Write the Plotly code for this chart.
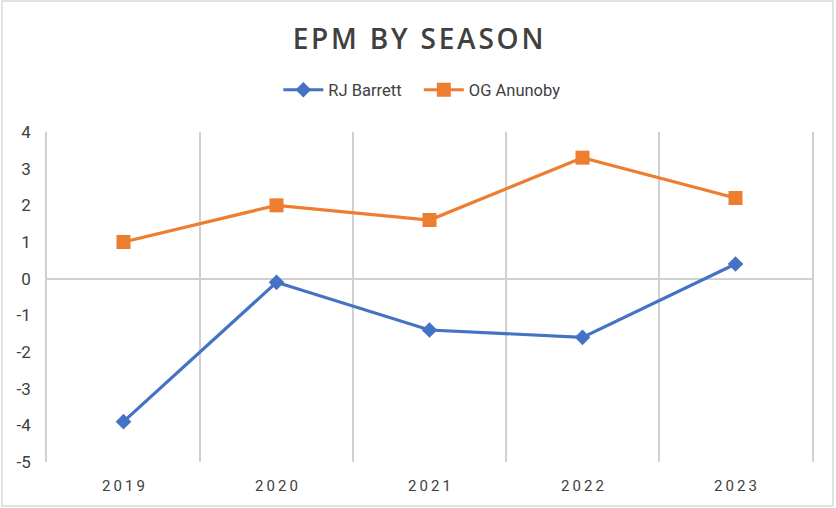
import plotly.graph_objects as go

seasons = ["2019", "2020", "2021", "2022", "2023"]
rj_barrett = [-3.9, -0.1, -1.4, -1.6, 0.4]
og_anunoby = [1.0, 2.0, 1.6, 3.3, 2.2]
y_ticks = [4, 3, 2, 1, 0, -1, -2, -3, -4, -5]

def spaced(s, sep="\u2009"):
    return sep.join(list(s))

fig = go.Figure()
fig.add_trace(go.Scatter(
    x=seasons, y=rj_barrett, name="RJ Barrett\u00a0\u00a0\u00a0", mode="lines+markers",
    line=dict(color="#4472C4", width=3.2),
    marker=dict(symbol="diamond", size=12, color="#4472C4"),
))
fig.add_trace(go.Scatter(
    x=seasons, y=og_anunoby, name="OG Anunoby", mode="lines+markers",
    line=dict(color="#ED7D31", width=3.2),
    marker=dict(symbol="square", size=14, color="#ED7D31"),
))

grid = "#d0d0d0"
fig.update_layout(
    width=836, height=508,
    margin=dict(l=47, r=24, t=132, b=46),
    paper_bgcolor="white", plot_bgcolor="white",
    font=dict(family="Roboto", color="#595959"),
    title=dict(
        text=spaced("EPM BY SEASON", "\u200a"),
        x=0.5, xanchor="center", y=1 - 39 / 508, yanchor="middle",
        font=dict(family="Open Sans", size=28, weight=600, color="#404040"),
    ),
    showlegend=True,
    legend=dict(
        orientation="h", x=0.49, xanchor="center", y=1 + 42 / 330, yanchor="middle",
        font=dict(family="Roboto", size=16.5, color="#404040"),
        itemwidth=40, traceorder="normal",
    ),
    xaxis=dict(
        type="category", categoryorder="array", categoryarray=seasons,
        range=[-0.5, 4.5],
        tickvals=seasons, ticktext=[spaced(s, "\u2009") for s in seasons],
        tickson="boundaries",
        showgrid=True, gridcolor=grid, gridwidth=1.5,
        ticks="", ticklabelstandoff=13,
        tickfont=dict(family="Roboto", size=15, color="#404040"),
        showline=False, zeroline=False,
    ),
    yaxis=dict(
        range=[-5, 4], tickvals=y_ticks, ticktext=[str(v) for v in y_ticks],
        showgrid=False, zeroline=True, zerolinecolor=grid, zerolinewidth=1.5,
        ticks="outside", ticklen=11, tickcolor="rgba(0,0,0,0)",
        tickfont=dict(family="Roboto", size=17, color="#404040"),
        showline=True, mirror=True, linecolor=grid, linewidth=1.5,
    ),
    shapes=[dict(
        type="rect", xref="paper", yref="paper",
        x0=-45 / 765, x1=1 + 21 / 765, y0=-44 / 330, y1=1 + 131 / 330,
        line=dict(color="#d9d9d9", width=1.5), fillcolor="rgba(0,0,0,0)", layer="below",
    )],
)

fig.write_html("out.html", config={"displayModeBar": False},
               post_script="document.body.style.margin='0px';")
